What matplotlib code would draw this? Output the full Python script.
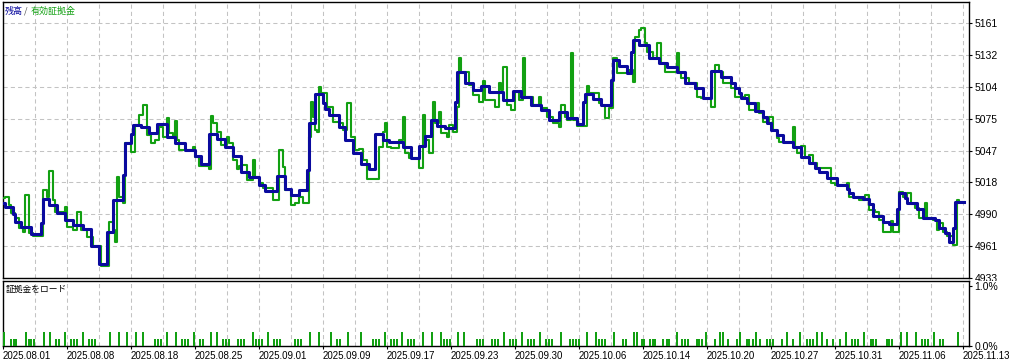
import matplotlib
matplotlib.use("Agg")
import matplotlib.pyplot as plt
from matplotlib.patches import Rectangle
from matplotlib.ticker import MultipleLocator

# balance (step levels): deal number where a level starts, balance value
bal_deal = [0, 1, 5, 6, 9, 14, 19, 20, 23, 27, 31, 35, 40, 44, 48, 52, 55, 60, 61, 64,
            65, 69, 73, 77, 82, 86, 91, 96, 99, 103, 107, 111, 115, 119, 123, 128, 131, 137, 141, 144,
            148, 152, 153, 156, 160, 161, 163, 168, 171, 175, 179, 183, 186, 190, 193, 200, 204, 208, 211, 214,
            217, 221, 226, 227, 231, 235, 239, 243, 250, 255, 259, 264, 269, 273, 278, 282, 287, 290, 291, 295,
            299, 304, 305, 308, 312, 314, 315, 318, 323, 328, 332, 337, 341, 346, 350, 354, 359, 364, 366, 368,
            369, 372, 376, 380, 382, 384, 387, 390, 395, 399, 403, 406, 408, 412, 417, 422, 423, 425, 430, 433,
            435, 440, 443, 447, 448, 451, 452, 457, 460, 466, 468, 471, 473, 475, 476, 480.5]
bal_value = [5000.0, 4996.5, 4990.2, 4983.1, 4978.6, 4972.3, 4982.0, 5003.6, 4998.3, 4991.1, 4984.9, 4980.4, 4976.8, 4961.6, 4945.5, 4974.1, 5002.7, 5025.0, 5053.7, 5062.0,
             5070.0, 5068.0, 5062.6, 5070.7, 5059.1, 5053.7, 5047.4, 5042.1, 5034.9, 5061.7, 5057.3, 5050.1, 5042.1, 5027.8, 5023.3, 5016.1, 5010.8, 5024.2, 5012.6, 5007.2,
             5011.7, 5030.0, 5071.6, 5097.5, 5089.5, 5084.1, 5078.7, 5068.0, 5056.4, 5044.8, 5034.9, 5030.4, 5061.7, 5056.4, 5054.6, 5050.1, 5040.3, 5051.0, 5060.0, 5074.3,
             5068.9, 5067.1, 5090.0, 5117.2, 5107.3, 5101.1, 5104.6, 5099.3, 5092.1, 5100.2, 5094.8, 5087.7, 5083.2, 5074.3, 5081.4, 5076.0, 5070.7, 5090.0, 5097.5, 5093.0,
             5087.7, 5110.0, 5127.9, 5122.5, 5116.3, 5135.0, 5145.8, 5141.3, 5129.7, 5125.2, 5121.6, 5117.2, 5107.3, 5102.9, 5093.9, 5118.0, 5112.7, 5107.3, 5102.9, 5098.4,
             5093.9, 5089.5, 5082.3, 5076.9, 5071.6, 5065.3, 5060.8, 5054.6, 5050.1, 5041.2, 5035.8, 5031.3, 5027.8, 5022.4, 5016.1, 5012.6, 5009.0, 5005.4, 5003.6, 4999.2,
             4988.4, 4983.1, 4981.3, 4995.0, 5009.0, 5004.5, 5000.0, 4994.7, 4986.6, 4984.9, 4977.7, 4973.2, 4965.2, 4977.7, 5000.9, 5000.9]

# equity
eq_deal = [0, 1, 3, 4, 6, 8, 10, 11, 13, 15, 20, 22, 23, 25, 26, 31, 32, 35, 37, 39,
           42, 45, 49, 53, 55, 56, 57, 58, 60, 61, 64, 66, 68, 70, 72, 74, 76, 78, 80, 82,
           83, 85, 86, 87, 88, 95, 96, 98, 103, 104, 105, 107, 109, 112, 113, 115, 117, 118, 119, 122,
           125, 126, 128, 130, 135, 138, 140, 141, 144, 146, 148, 150, 153, 154, 155, 156, 157, 158, 159, 162,
           165, 168, 170, 172, 174, 176, 178, 180, 182, 188, 190, 191, 192, 194, 198, 200, 201, 203, 208, 210,
           211, 213, 215, 216, 218, 219, 222, 223, 225, 227, 228, 229, 233, 235, 238, 240, 241, 246, 248, 249,
           250, 252, 254, 256, 258, 260, 261, 265, 268, 269, 272, 275, 278, 279, 281, 282, 284, 285, 287, 292,
           293, 298, 299, 301, 303, 305, 307, 313, 315, 316, 318, 319, 321, 322, 325, 327, 329, 331, 337, 338,
           339, 343, 347, 349, 354, 356, 358, 360, 364, 366, 371, 373, 377, 378, 380, 383, 385, 387, 388, 395,
           396, 397, 399, 401, 403, 405, 407, 408, 414, 416, 422, 423, 428, 431, 433, 436, 438, 440, 444, 445,
           448, 450, 452, 454, 456, 458, 461, 462, 465, 467, 468, 470, 472, 475, 477, 478, 480.5]
eq_value = [5004.5, 5005.0, 4998.3, 4991.1, 4986.6, 4977.7, 4974.1, 5007.2, 4973.2, 4970.5, 5011.7, 5005.4, 5028.7, 5002.7, 4992.0, 4996.5, 4978.6, 4975.9, 4992.0, 4975.9,
            4969.7, 4961.6, 4943.7, 4983.1, 4975.9, 4965.2, 5023.3, 5005.4, 5000.0, 5053.7, 5045.6, 5069.8, 5078.7, 5087.7, 5060.8, 5053.7, 5056.4, 5068.0, 5059.1, 5076.0,
            5062.6, 5058.2, 5073.4, 5056.4, 5047.4, 5050.1, 5041.2, 5033.1, 5030.4, 5077.8, 5071.6, 5063.5, 5051.9, 5059.1, 5053.7, 5038.5, 5030.4, 5033.1, 5034.0, 5020.6,
            5038.5, 5023.3, 5017.9, 5013.5, 5002.7, 5047.4, 5032.2, 5011.7, 4998.3, 5000.0, 5005.4, 5000.0, 5059.1, 5090.3, 5076.9, 5065.3, 5063.5, 5103.8, 5098.4, 5085.9,
            5072.5, 5071.6, 5065.3, 5089.5, 5059.1, 5047.4, 5048.3, 5038.5, 5021.5, 5050.1, 5063.5, 5071.6, 5050.1, 5049.2, 5056.4, 5076.9, 5044.8, 5040.3, 5031.3, 5078.7,
            5056.4, 5044.8, 5090.3, 5071.6, 5081.4, 5062.6, 5059.1, 5069.8, 5063.5, 5085.9, 5129.7, 5117.2, 5105.5, 5096.6, 5090.3, 5109.1, 5092.1, 5085.9, 5107.3, 5101.1,
            5121.6, 5087.7, 5083.2, 5099.3, 5092.1, 5129.7, 5094.8, 5087.7, 5094.8, 5085.0, 5076.9, 5071.6, 5068.0, 5087.7, 5076.9, 5074.3, 5134.2, 5074.3, 5068.9, 5104.6,
            5098.4, 5089.5, 5087.7, 5076.0, 5085.0, 5129.7, 5116.3, 5118.9, 5108.2, 5148.5, 5154.7, 5156.5, 5143.1, 5135.0, 5129.7, 5143.1, 5125.2, 5117.2, 5134.2, 5116.3,
            5111.8, 5107.3, 5094.8, 5093.9, 5085.9, 5123.4, 5117.2, 5107.3, 5102.9, 5094.8, 5096.6, 5083.2, 5089.5, 5080.5, 5072.5, 5076.9, 5065.3, 5058.2, 5054.6, 5068.0,
            5050.1, 5044.8, 5051.0, 5040.3, 5043.0, 5035.8, 5030.4, 5031.3, 5017.9, 5016.1, 5017.9, 5005.4, 5002.7, 5007.2, 4993.8, 4992.0, 4984.9, 4974.1, 4984.0, 4974.1,
            5009.9, 5005.4, 5009.0, 4999.2, 4995.6, 4986.6, 5000.0, 4986.6, 4984.9, 4975.9, 4982.2, 4974.1, 4970.5, 4962.5, 5002.7, 5000.9, 5000.9]

# margin load bars (%)
load_deal = [0.7, 4, 5.3, 6.7, 11.3, 12.8, 14.2, 15.7, 20.3, 23.3, 26.3, 27.8, 30.8, 33.8, 35.3, 36.8, 39.8, 42.8, 44.3, 45.8,
             53.5, 57.8, 62, 66.5, 69.8, 76, 77.5, 79, 81.8, 86.3, 89.3, 90.8, 92.3, 95.3, 98.3, 99.8, 104, 107, 110, 111.5,
             113, 117.5, 119, 120.5, 124.8, 126.5, 128, 129.5, 132.3, 135.5, 137, 138.5, 145.8, 147.3, 148.8, 153.3, 157.8, 164, 167.2, 168.5,
             172.7, 178.8, 184.8, 186.3, 187.8, 190.8, 193.8, 195.3, 196.8, 199.3, 202.3, 203.8, 205.3, 209.8, 214.3, 218.8, 220.3, 221.8, 223.3, 227.7,
             230.7, 236.8, 238.3, 239.8, 244.3, 245.8, 247.3, 250.3, 253.3, 254.8, 256.3, 259.3, 262.3, 263.8, 265.3, 268.3, 271.5, 273, 274.5, 278.8,
             283.3, 284.8, 286.3, 287.8, 291.8, 296.3, 297.8, 299.3, 300.8, 305.3, 309.8, 311.3, 315.7, 316.8, 319.3, 320.7, 323.5, 324.8, 326, 330.2,
             331.8, 333.2, 336.8, 339.3, 341, 342.3, 346.8, 348.2, 349.5, 351.5, 356, 358.5, 359.8, 362.3, 366.8, 368.5, 371.8, 373.2, 374.8, 376.5,
             378.5, 381.8, 383.5, 384.8, 389.3, 391.8, 394.8, 398.5, 401.8, 403.5, 405.2, 406.8, 409.3, 411.8, 415.2, 418.5, 421.5, 424.3, 426, 427.7,
             430.7, 433.8, 435.2, 436.5, 441.8, 443.2, 444.5, 448.8, 451.8, 456.3, 459.3, 461, 462.7, 465.5, 468.5, 469.8, 477.3]
load_pct = [0.23, 0.12, 0.12, 0.12, 0.23, 0.12, 0.12, 0.12, 0.23, 0.23, 0.12, 0.12, 0.23, 0.12, 0.12, 0.12, 0.23, 0.12, 0.12, 0.12,
            0.23, 0.23, 0.23, 0.23, 0.23, 0.12, 0.12, 0.12, 0.23, 0.23, 0.12, 0.12, 0.12, 0.23, 0.12, 0.12, 0.23, 0.23, 0.12, 0.12,
            0.12, 0.12, 0.12, 0.12, 0.23, 0.12, 0.12, 0.12, 0.23, 0.12, 0.12, 0.12, 0.12, 0.12, 0.12, 0.23, 0.23, 0.23, 0.12, 0.12,
            0.23, 0.23, 0.12, 0.12, 0.12, 0.23, 0.12, 0.12, 0.12, 0.23, 0.12, 0.12, 0.12, 0.23, 0.23, 0.23, 0.12, 0.12, 0.12, 0.23,
            0.23, 0.12, 0.12, 0.12, 0.12, 0.12, 0.12, 0.23, 0.12, 0.12, 0.12, 0.23, 0.12, 0.12, 0.12, 0.23, 0.12, 0.12, 0.12, 0.23,
            0.12, 0.12, 0.12, 0.12, 0.23, 0.23, 0.12, 0.12, 0.12, 0.23, 0.12, 0.12, 0.23, 0.23, 0.12, 0.12, 0.12, 0.12, 0.12, 0.12,
            0.12, 0.12, 0.23, 0.12, 0.12, 0.12, 0.12, 0.12, 0.12, 0.23, 0.12, 0.23, 0.23, 0.12, 0.12, 0.23, 0.12, 0.12, 0.12, 0.23,
            0.12, 0.12, 0.12, 0.12, 0.12, 0.23, 0.12, 0.23, 0.12, 0.12, 0.12, 0.23, 0.23, 0.12, 0.12, 0.12, 0.23, 0.12, 0.12, 0.12,
            0.23, 0.12, 0.12, 0.12, 0.12, 0.12, 0.12, 0.23, 0.23, 0.23, 0.12, 0.12, 0.12, 0.23, 0.12, 0.12, 0.23]

date_labels = ["2025.08.01", "2025.08.08", "2025.08.18", "2025.08.25", "2025.09.01", "2025.09.09",
               "2025.09.17", "2025.09.23", "2025.09.30", "2025.10.06", "2025.10.14", "2025.10.20",
               "2025.10.27", "2025.10.31", "2025.11.06", "2025.11.13"]
y_ticks = [4933, 4961.5, 4990, 5018.5, 5047, 5075.5, 5104, 5132.5, 5161]

BLUE = "#0A0A9E"
GREEN = "#12A012"
GRID = "#C3C3C3"
JP = ["Noto Sans CJK JP", "DejaVu Sans"]
NUM = "Liberation Sans"

W, H = 1009, 360
fig = plt.figure(figsize=(W / 100, H / 100), dpi=100)
fig.patch.set_facecolor("white")

left, right = 2.5, 969
ax = fig.add_axes([left / W, 1 - 278 / H, (right - left) / W, 276 / H], zorder=0)
ax2 = fig.add_axes([left / W, 1 - 346 / H, (right - left) / W, 65.5 / H], zorder=2)

# main panel
ax.step(eq_deal, eq_value, where="post", color=GREEN, lw=1.5, zorder=3)
ax.step(bal_deal, bal_value, where="post", color=BLUE, lw=2.2, zorder=4)
ax.set_xlim(-0.25, 483)
ax.set_ylim(4933, 5179.8)
ax.set_yticks(y_ticks)
ax.set_yticklabels([str(int(v)) for v in y_ticks], fontsize=7.5, family=NUM)
ax.yaxis.tick_right()
ax.tick_params(axis="y", length=2.5, width=0.8, pad=1.5, colors="black")
ax.xaxis.set_major_locator(MultipleLocator(16))
ax.tick_params(axis="x", length=0, labelbottom=False)
ax.grid(True, color=GRID, lw=0.75, linestyle=(0, (4, 3)))

fig.text(5 / W, 1 - 11 / H, "残高", color=BLUE, fontsize=6.5, family=JP, va="center")
fig.text(24 / W, 1 - 11 / H, "/", color="#505050", fontsize=6.5, family=JP, va="center")
fig.text(31 / W, 1 - 11 / H, "有効証拠金", color=GREEN, fontsize=6.5, family=JP, va="center")

# lower panel: margin load
ax2.bar(load_deal, load_pct, width=1.0, color=GREEN, linewidth=0, antialiased=False, zorder=3)
ax2.set_xlim(-0.25, 483)
ax2.set_ylim(0, 1.09)
ax2.set_yticks([0, 1.0])
ax2.set_yticklabels(["0.0%", "1.0%"], fontsize=7.5, family=NUM)
ax2.yaxis.tick_right()
ax2.tick_params(axis="y", length=2.5, width=0.8, pad=1.5)
ax2.set_xticks(range(0, 481, 32))
ax2.set_xticklabels(date_labels, fontsize=7, family=NUM, ha="left")
ax2.xaxis.set_minor_locator(MultipleLocator(16))
ax2.tick_params(axis="x", which="major", length=2.5, width=0.8, pad=1)
ax2.tick_params(axis="x", which="minor", length=0)
ax2.grid(True, which="both", axis="x", color=GRID, lw=0.75, linestyle=(0, (4, 3)))
fig.text(6 / W, 1 - 289 / H, "証拠金をロード", color="black", fontsize=6.3, family=JP, va="center")

for a in (ax, ax2):
    for s in a.spines.values():
        s.set_color("black")
        s.set_linewidth(1.0)

# lower panel hides the bottom half of the last price label
fig.patches.append(Rectangle((971 / W, 1 - 300 / H), 38 / W, 19 / H, transform=fig.transFigure,
                             facecolor="white", edgecolor="none", zorder=1))

plt.savefig("out.png", dpi=100)
